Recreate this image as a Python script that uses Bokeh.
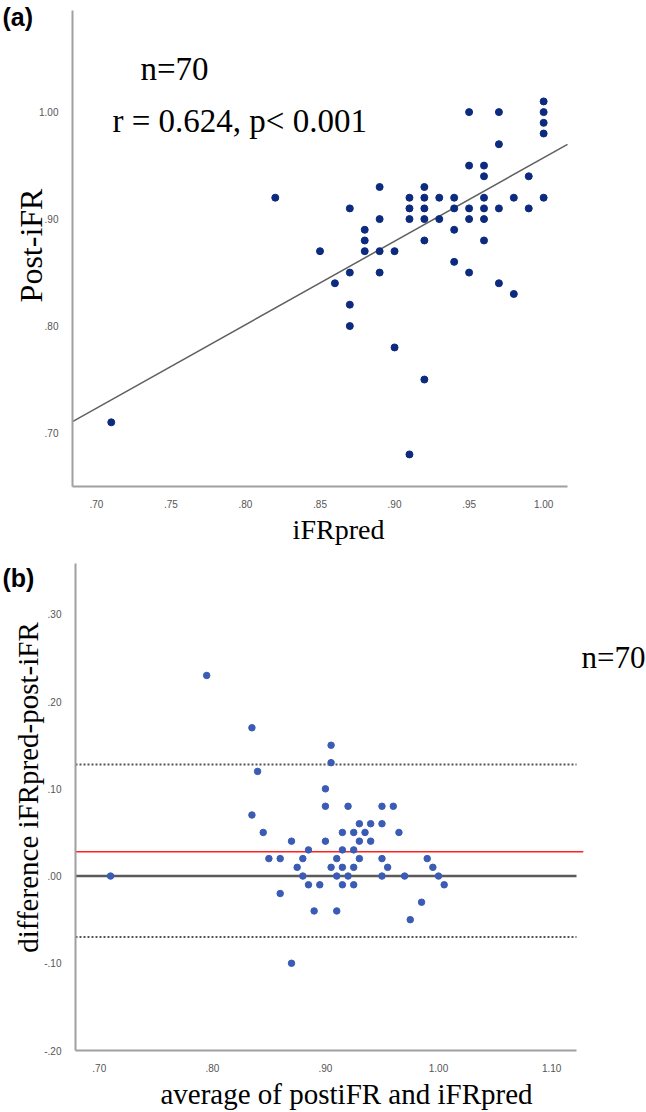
import math
from bokeh.plotting import figure
from bokeh.layouts import column
from bokeh.models import Range1d, FixedTicker, Label
from bokeh.embed import file_html
from bokeh.resources import INLINE

# ---------------- data: panel (a) ----------------
ifr_pred = [0.82, 0.95, 0.97, 1.00, 1.00, 1.00, 1.00, 0.97, 0.95, 0.96, 0.96, 0.99, 0.89, 0.92,
            0.91, 0.92, 0.93, 0.94, 0.96, 0.98, 1.00,
            0.87, 0.91, 0.92, 0.94, 0.95, 0.96, 0.97, 0.99,
            0.89, 0.91, 0.92, 0.93, 0.95, 0.96,
            0.88, 0.94,
            0.88, 0.92, 0.96,
            0.85, 0.88, 0.89, 0.90,
            0.94,
            0.87, 0.89, 0.95,
            0.86, 0.97,
            0.98, 0.87, 0.87, 0.90, 0.92, 0.71, 0.91]
post_ifr = [0.92, 1.00, 1.00, 1.01, 1.00, 0.99, 0.98, 0.97, 0.95, 0.95, 0.94, 0.94, 0.93, 0.93,
            0.92, 0.92, 0.92, 0.92, 0.92, 0.92, 0.92,
            0.91, 0.91, 0.91, 0.91, 0.91, 0.91, 0.91, 0.91,
            0.90, 0.90, 0.90, 0.90, 0.90, 0.90,
            0.89, 0.89,
            0.88, 0.88, 0.88,
            0.87, 0.87, 0.87, 0.87,
            0.86,
            0.85, 0.85, 0.85,
            0.84, 0.84,
            0.83, 0.82, 0.80, 0.78, 0.75, 0.71, 0.68]
reg_slope = 0.781
reg_intercept = 0.1764
a_xaxis = (0.684, 1.016)   # extent of the x axis
a_yaxis = (0.650, 1.095)   # extent of the y axis
a_xticks = [0.70, 0.75, 0.80, 0.85, 0.90, 0.95, 1.00]
a_xlabels = [".70", ".75", ".80", ".85", ".90", ".95", "1.00"]
a_yticks = [0.70, 0.80, 0.90, 1.00]
a_ylabels = [".70", ".80", ".90", "1.00"]

# ---------------- data: panel (b) ----------------
ba_mean = [0.795, 0.835, 0.905, 0.905, 0.84, 0.90,
           0.90, 0.92, 0.95, 0.96,
           0.835,
           0.93, 0.94, 0.95,
           0.845, 0.915, 0.925, 0.935, 0.965,
           0.87, 0.90, 0.93, 0.94,
           0.885, 0.915, 0.925,
           0.85, 0.86, 0.88, 0.91, 0.93, 0.95, 0.99,
           0.875, 0.905, 0.915, 0.925, 0.955, 0.995,
           0.71, 0.88, 0.91, 0.92, 0.95, 0.97, 1.00,
           0.885, 0.895, 0.915, 0.925, 1.005,
           0.86, 0.985, 0.89, 0.91, 0.975, 0.87]
ba_diff = [0.23, 0.17, 0.15, 0.13, 0.12, 0.10,
           0.08, 0.08, 0.08, 0.08,
           0.07,
           0.06, 0.06, 0.06,
           0.05, 0.05, 0.05, 0.05, 0.05,
           0.04, 0.04, 0.04, 0.04,
           0.03, 0.03, 0.03,
           0.02, 0.02, 0.02, 0.02, 0.02, 0.02, 0.02,
           0.01, 0.01, 0.01, 0.01, 0.01, 0.01,
           0.0, 0.0, 0.0, 0.0, 0.0, 0.0, 0.0,
           -0.01, -0.01, -0.01, -0.01, -0.01,
           -0.02, -0.03, -0.04, -0.04, -0.05, -0.10]
mean_diff = 0.028
upper_loa = 0.128
lower_loa = -0.070
b_xaxis = (0.679, 1.122)
b_yaxis = (-0.200, 0.358)
red_line_end = 1.128
b_xticks = [0.70, 0.80, 0.90, 1.00, 1.10]
b_xlabels = [".70", ".80", ".90", "1.00", "1.10"]
b_yticks = [-0.20, -0.10, 0.0, 0.10, 0.20, 0.30]
b_ylabels = ["-.20", "-.10", ".00", ".10", ".20", ".30"]

SERIF = "Liberation Serif"
SANS = "Liberation Sans"
W = 646


def ranges(ax_x, ax_y, px_l, px_r, px_t, px_b, cw, ch):
    """Data ranges for a frame filling the canvas, so that the axes land at the given pixels."""
    sx = (ax_x[1] - ax_x[0]) / (px_r - px_l)
    sy = (ax_y[1] - ax_y[0]) / (px_b - px_t)
    xr = Range1d(ax_x[0] - px_l * sx, ax_x[1] + (cw - px_r) * sx)
    yr = Range1d(ax_y[0] - (ch - px_b) * sy, ax_y[1] + px_t * sy)
    return xr, yr


def style_axes(p, ax_x, ax_y, xt, xl, yt, yl):
    xa, ya = p.xaxis[0], p.yaxis[0]
    for ax in (xa, ya):
        ax.axis_line_color = "#a0a0a0"
        ax.axis_line_width = 2
        ax.major_tick_line_color = None
        ax.minor_tick_line_color = None
        ax.major_label_text_font = SANS
        ax.major_label_text_font_size = "10px"
        ax.major_label_text_color = "#555555"
    xa.fixed_location = ax_y[0]
    xa.bounds = ax_x
    xa.ticker = FixedTicker(ticks=xt)
    xa.major_label_overrides = {t: s for t, s in zip(xt, xl)}
    xa.major_label_standoff = 7
    ya.fixed_location = ax_x[0]
    ya.bounds = ax_y
    ya.ticker = FixedTicker(ticks=yt)
    ya.major_label_overrides = {t: s for t, s in zip(yt, yl)}
    ya.major_label_standoff = 8
    p.xgrid.grid_line_color = None
    p.ygrid.grid_line_color = None
    p.outline_line_color = None


def lab(p, x, y, text, size, font=SERIF, align="left", baseline="alphabetic", angle=0.0, style="normal"):
    p.add_layout(Label(x=x, y=y, x_units="screen", y_units="screen", text=text,
                       text_font=font, text_font_size=f"{size}px", text_color="#000000",
                       text_align=align, text_baseline=baseline, angle=angle,
                       text_font_style=style))


def make_fig(h, xr, yr):
    return figure(width=W, height=h, output_backend="svg", toolbar_location=None,
                  x_range=xr, y_range=yr,
                  min_border_left=0, min_border_right=0, min_border_top=0, min_border_bottom=0)


# ---------------- panel (a) ----------------
H1 = 553
xr1, yr1 = ranges(a_xaxis, a_yaxis, 72, 567, 10, 486, W, H1)
p1 = make_fig(H1, xr1, yr1)
style_axes(p1, a_xaxis, a_yaxis, a_xticks, a_xlabels, a_yticks, a_ylabels)
reg_x = list(a_xaxis)
reg_y = [reg_intercept + reg_slope * v for v in reg_x]
p1.line(reg_x, reg_y, line_color="#606060", line_width=1.5)
p1.scatter(ifr_pred, post_ifr, size=7, color="#0c2a7e")
lab(p1, 2, 551, "(a)", 25, font=SANS, baseline="top", style="bold")
lab(p1, 140, 485, "n=70", 33)
lab(p1, 112, 433, "r = 0.624, p< 0.001", 33)
lab(p1, 30, 308, "Post-iFR", 32, align="center", angle=math.pi / 2)
lab(p1, 338, 24, "iFRpred", 28, align="center")

# ---------------- panel (b) ----------------
H2 = 559
xr2, yr2 = ranges(b_xaxis, b_yaxis, 75, 576, 10.3, 497, W, H2)
p2 = make_fig(H2, xr2, yr2)
style_axes(p2, b_xaxis, b_yaxis, b_xticks, b_xlabels, b_yticks, b_ylabels)
p2.segment(x0=[b_xaxis[0]] * 2, x1=[b_xaxis[1]] * 2, y0=[upper_loa, lower_loa], y1=[upper_loa, lower_loa],
           line_color="#555555", line_width=2, line_dash="2 2")
p2.segment(x0=[b_xaxis[0]], x1=[b_xaxis[1]], y0=[0.0], y1=[0.0], line_color="#5a5a5a", line_width=2.5)
p2.segment(x0=[b_xaxis[0]], x1=[red_line_end], y0=[mean_diff], y1=[mean_diff],
           line_color="#ff2020", line_width=1.5)
p2.scatter(ba_mean, ba_diff, size=6.5, color="#3a5cb4")
lab(p2, 2, 549, "(b)", 25, font=SANS, baseline="top", style="bold")
lab(p2, 581, 455, "n=70", 31)
lab(p2, 27, 325, "difference iFRpred-post-iFR", 29, align="center", angle=math.pi / 2)
lab(p2, 346, 19, "average of postiFR and iFRpred", 29, align="center")

layout = column(p1, p2)
open("out.html", "w").write(file_html(layout, INLINE))
